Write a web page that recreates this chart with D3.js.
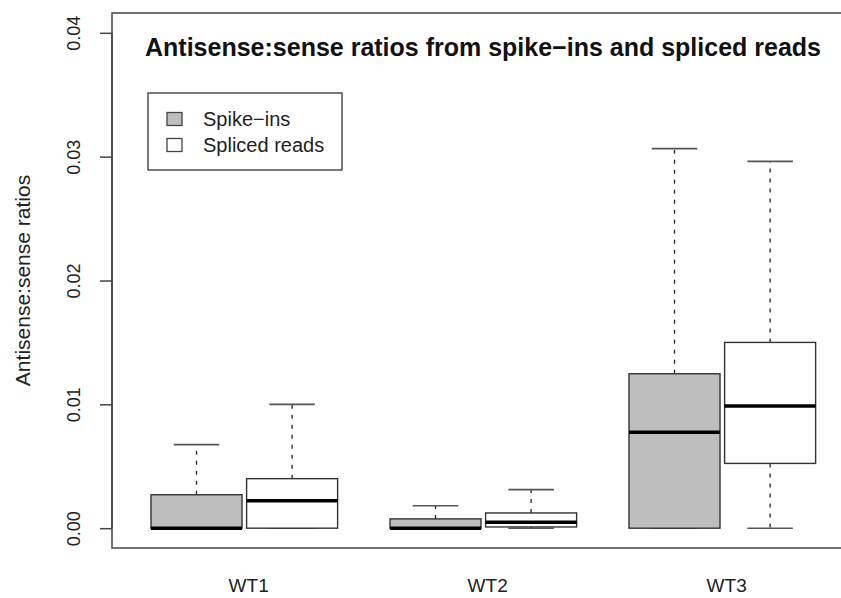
<!DOCTYPE html>
<html>
<head>
<meta charset="utf-8">
<script src="https://cdn.jsdelivr.net/npm/d3@7"></script>
<style>
  html, body { margin: 0; padding: 0; background: #fff; }
  svg { display: block; font-family: "Liberation Sans", Arial, Helvetica, sans-serif; }
</style>
</head>
<body>
<svg id="chart" width="841" height="598"></svg>
<script>
// Samples and series
const groups = ["WT1", "WT2", "WT3"];
const seriesNames = ["Spike\u2212ins", "Spliced reads"];
const seriesFill = ["#bebebe", "#ffffff"];

// Five-number summaries per sample: [lower whisker, Q1, median, Q3, upper whisker]
const spikeIns = [
  [0, 0, 0, 0.00270, 0.00675],
  [0, 0, 0, 0.00075, 0.00181],
  [0, 0, 0.00775, 0.01247, 0.03065]
];
const splicedReads = [
  [0, 0, 0.00222, 0.00400, 0.01000],
  [0, 0.0001, 0.00048, 0.00123, 0.00311],
  [0, 0.00523, 0.00987, 0.01500, 0.02962]
];

const yTicks = [0, 0.01, 0.02, 0.03, 0.04];
const yTickLabels = ["0.00", "0.01", "0.02", "0.03", "0.04"];

const title = "Antisense:sense ratios from spike\u2212ins and spliced reads";
const yTitle = "Antisense:sense ratios";

const svg = d3.select("#chart");
const plot = { left: 112, right: 842, top: 13, bottom: 548 };

// y: ylim 0..0.04 with the usual 4% padding on each side
const yPad = 0.04 * 0.04;
const y = d3.scaleLinear().domain([-yPad, 0.04 + yPad]).range([plot.bottom, plot.top]);

// x: boxes sit at 1,2 / 3.5,4.5 / 6,7
const x = d3.scaleLinear().domain([0.116, 7.752]).range([plot.left, plot.right]);
const boxHalf = 0.476;
const stapleHalf = boxHalf / 2;

const boxes = [];
[spikeIns, splicedReads].forEach((series, s) => {
  series.forEach((stats, g) => {
    boxes.push({ g, s, pos: 1 + g * 2.5 + s, stats });
  });
});

const marks = svg.append("g");

boxes.forEach(b => {
  const [lo, q1, med, q3, hi] = b.stats;
  const cx = x(b.pos);
  const xl = x(b.pos - boxHalf), xr = x(b.pos + boxHalf);
  const sl = x(b.pos - stapleHalf), sr = x(b.pos + stapleHalf);
  const g = marks.append("g");

  // whiskers
  g.append("line").attr("x1", cx).attr("x2", cx).attr("y1", y(q3)).attr("y2", y(hi))
    .attr("stroke", "#333").attr("stroke-width", 1.4).attr("stroke-dasharray", "4,6");
  g.append("line").attr("x1", cx).attr("x2", cx).attr("y1", y(q1)).attr("y2", y(lo))
    .attr("stroke", "#333").attr("stroke-width", 1.4).attr("stroke-dasharray", "4,6");
  // staples
  [lo, hi].forEach(v => {
    g.append("line").attr("x1", sl).attr("x2", sr).attr("y1", y(v)).attr("y2", y(v))
      .attr("stroke", "#555").attr("stroke-width", 1.6);
  });
  // box
  g.append("rect")
    .attr("x", xl).attr("y", y(q3))
    .attr("width", xr - xl).attr("height", Math.max(0, y(q1) - y(q3)))
    .attr("fill", seriesFill[b.s]).attr("stroke", "#333").attr("stroke-width", 1.4);
  // median
  g.append("line").attr("x1", xl).attr("x2", xr).attr("y1", y(med)).attr("y2", y(med))
    .attr("stroke", "#000").attr("stroke-width", 3.6);
});

// frame
svg.append("rect")
  .attr("x", plot.left).attr("y", plot.top)
  .attr("width", plot.right - plot.left).attr("height", plot.bottom - plot.top)
  .attr("fill", "none").attr("stroke", "#444").attr("stroke-width", 1.5);

// y axis
const yAxis = d3.axisLeft(y).tickValues(yTicks)
  .tickFormat((d, i) => yTickLabels[i]).tickSize(12).tickPadding(0);
const ya = svg.append("g").attr("transform", `translate(${plot.left},0)`).call(yAxis);
ya.select(".domain").attr("d", `M0,${y(0)}V${y(0.04)}`).attr("stroke", "#444").attr("stroke-width", 1.5);
ya.selectAll(".tick line").attr("stroke", "#444").attr("stroke-width", 1.5);
ya.selectAll(".tick text")
  .attr("x", 0).attr("dy", null)
  .attr("transform", "translate(-38,0) rotate(-90)")
  .attr("text-anchor", "middle").attr("dominant-baseline", "central")
  .attr("font-size", 18).attr("fill", "#222")
  .style("font-family", "Liberation Sans, Arial, sans-serif");

// x labels
const xa = d3.axisBottom(d3.scalePoint().domain(groups).range([x(1.54), x(6.54)]))
  .tickSize(0).tickPadding(0);
const xg = svg.append("g").attr("transform", `translate(0,${plot.bottom})`).call(xa);
xg.select(".domain").remove();
xg.selectAll(".tick text").attr("y", 44).attr("dy", null)
  .attr("font-size", 19).attr("fill", "#222")
  .style("font-family", "Liberation Sans, Arial, sans-serif");

// y title
svg.append("text")
  .attr("transform", `translate(30,${(plot.top + plot.bottom) / 2}) rotate(-90)`)
  .attr("text-anchor", "middle").attr("font-size", 21).attr("fill", "#222")
  .text(yTitle);

// title
svg.append("text")
  .attr("x", 483).attr("y", 56).attr("text-anchor", "middle")
  .attr("font-size", 25).attr("font-weight", "bold").attr("fill", "#111")
  .text(title);

// legend
const leg = svg.append("g");
leg.append("rect").attr("x", 148).attr("y", 93).attr("width", 194).attr("height", 77)
  .attr("fill", "#fff").attr("stroke", "#444").attr("stroke-width", 1.4);
seriesNames.forEach((name, i) => {
  const cy = 119 + i * 26;
  leg.append("rect").attr("x", 167).attr("y", cy - 6.5).attr("width", 15).attr("height", 13)
    .attr("fill", seriesFill[i]).attr("stroke", "#444").attr("stroke-width", 1.3);
  leg.append("text").attr("x", 203).attr("y", cy).attr("dominant-baseline", "central")
    .attr("font-size", 20).attr("fill", "#222").text(name);
});
</script>
</body>
</html>
